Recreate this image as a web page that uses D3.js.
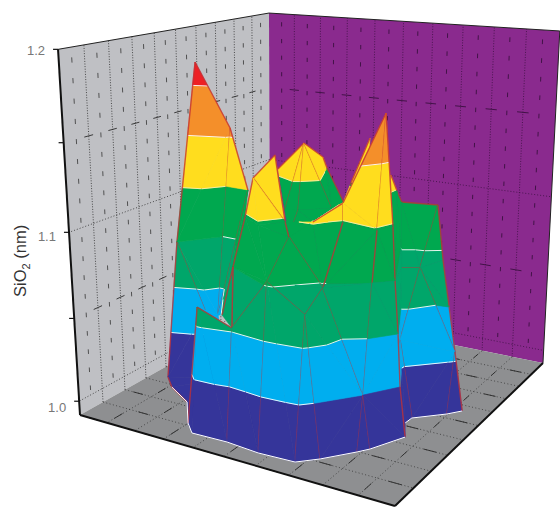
<!DOCTYPE html>
<html>
<head>
<meta charset="utf-8">
<script src="https://cdn.jsdelivr.net/npm/d3@7"></script>
<style>
html,body{margin:0;padding:0;background:#fff;}
svg{display:block;font-family:"Liberation Sans",Arial,sans-serif;}
</style>
</head>
<body>
<div id="chart"></div>
<script>
// mesh points: position on the wafer floor (u,v) and SiO2 thickness (z)
var vertNames = ["S1","S2","S3","T1","T2","T3","C","C2","Ca","Cb","Cc","C7a","C7b","C8","RT1","RT2","RM1","RM2","RE1","RE2","RE3","RE4","RL","RB0","RB1","RB2","A","L1","M","K2","J1","J0","L2","L3","L4","G3","F","F1","F2","F3","F4","D","D2","D3","E1","E2","E3","W1","W2","V1","V2","V3","V4","V5","V6","V8","V10","X2","X3","X4","R0","R1","R2","R3","R4","R5","R6","R7","R8"];
var vertU = [0.407,0.479,0.549,0.647,0.633,0.632,0.347,0.235,0.296,0.331,0.409,0.305,0.318,0.382,0.685,0.788,0.736,0.780,0.830,0.883,0.924,0.960,0.805,0.859,0.861,0.932,-0.059,0.121,0.137,0.256,0.256,0.214,0.116,0.170,0.270,0.275,0.335,0.322,0.403,0.477,0.524,0.651,0.680,0.606,0.658,0.772,0.791,0.396,0.405,0.359,0.468,0.560,0.681,0.545,0.680,0.816,0.785,0.829,0.853,0.875,0.353,0.398,0.509,0.613,0.720,0.766,0.828,0.849,0.896];
var vertV = [0.034,0.288,0.317,0.349,0.282,0.336,0.337,0.309,0.366,0.346,0.275,0.155,0.152,0.147,0.353,0.331,0.448,0.423,0.380,0.449,0.495,0.519,0.591,0.663,0.627,0.557,0.331,0.679,0.422,0.505,0.670,0.677,0.738,0.790,0.850,0.655,0.478,0.574,0.735,0.782,0.722,0.391,0.683,0.714,0.645,0.666,0.613,0.788,0.857,0.906,0.902,0.870,0.880,0.737,0.789,0.820,0.716,0.672,0.699,0.728,0.957,1.000,0.996,1.006,1.000,0.954,0.874,0.843,0.738];
var vertZ = [1.125,1.107,1.107,1.12,1.107,1.107,1.132,1.112,1.09,1.09,1.09,1.115,1.108,1.085,1.105,1.105,1.072,1.072,1.076,1.054,1.032,1.0,1.041,1.0,1.0,1.0,1.175,1.081,1.14,1.108,1.04,1.042,1.0,1.0,1.0,1.0,1.13,1.12,1.107,1.107,1.107,1.158,1.12,1.109,1.107,1.107,1.107,1.081,1.058,1.064,1.056,1.083,1.07,1.10,1.079,1.027,1.081,1.081,1.054,1.027,1.0,1.0,1.0,1.0,1.0,1.0,1.0,1.0,1.0];

// triangles back to front, last item says which sides carry a mesh line
var faces = [
["S1","S2","S3","ab"],["S2","S3","D2",""],["T1","T2","T3","ab"],
["C","C2","Ca","ab ca"],["C","Ca","Cb","ca"],["C","Cb","Cc","ca"],["C","Cc","C7a","ca"],["C7a","C7b","Cc","ab"],["C7b","C8","Cc","ab"],
["Ca","Cb","V5","bc"],["Cb","D3","V5",""],["Cb","Cc","D3",""],["Cc","C8","D2",""],["Cc","D2","D3",""],
["T2","T3","X2",""],["T2","RT1","RM1","ab"],["T2","RM1","X2",""],["RM1","X3","X2",""],["RL","X3","X4",""],["RL","X4","RB0",""],["X4","R8","RB0",""],
["RT1","RT2","RM2","ab bc"],["RT1","RM2","RM1","bc"],["RT2","RE1","RM2","ab"],["RE1","RE2","RM2","ab"],["RE2","RE3","RM2","ab bc"],
["RM1","RM2","RL","bc"],["RM1","RL","X3",""],["RM2","RE3","RL",""],["RL","RE3","RB1","ca"],["RE3","RB2","RB1","ab"],["RE3","RE4","RB2","ab"],["RL","RB1","RB0",""],
["A","L1","M","ab ca"],["L1","J1","M","bc"],["M","K2","J1","ab bc"],["K2","J1","W1",""],["J1","W2","W1",""],["K2","W1","F2",""],["L1","J0","J1","ab"],["L1","L2","J0","ab"],["J0","L2","G3",""],["J0","G3","J1",""],["L2","L3","G3","ab"],["L3","L4","G3","ab"],["L4","R0","G3",""],
["F2","F3","V3",""],["F2","V3","W1","ca"],["F3","F4","V5",""],["F3","V5","V3","bc"],["F4","D3","V5","ca"],["D3","V6","V5","bc"],["V5","V6","V3",""],["V3","V6","V4","bc ca"],
["D3","E1","V6",""],["E1","E2","V6","ca"],["E2","V10","V6",""],["E2","E3","X2","bc"],["E2","X2","V10","ca"],
["W1","V3","V2","bc ca"],["W2","W1","V2","ab bc"],
["V1","V2","R2","ab bc"],["V1","R2","R1",""],["V1","R1","R0","ca"],["V2","V3","R3","bc"],["V2","R3","R2",""],["V3","V4","R4","bc"],["V3","R4","R3",""],["V4","R4","R5","ca"],
["V4","V6","V8","bc"],["V4","V8","R5",""],["V8","R5","R6","ca"],["V8","R6","R7","ca"],["V6","V10","V8","bc"],["V10","X2","X3","bc"],["V10","X3","V8",""],["V8","X3","X4","bc"],["V8","X4","R8","bc"],["V8","R8","R7",""],
["F","F1","F4","ab bc ca"],["F1","F2","F3","ab"],["F1","F3","F4",""],
["D3","D2","E1","ab bc"],["D","D2","E2","ab ca"],["D2","E1","E2",""],["D","E2","E3","ca"]
];
var rimFront = ["L3","L4","R0","R1","R2","R3","R4","R5","R6","R7","R8"];
var rimRight = ["RB0","RB1","RB2","RE4"];

// contour bands
var bandLevels = [0.9,1.027,1.054,1.081,1.108,1.135,1.162,1.3];
var bandColors = ["#35359a","#00aeef","#00a66a","#00a84f","#ffdd1e","#f48f2a","#ed2024"];

var zTicks = [1.0,1.1,1.2];
var zMinor = [1.05,1.15];
var zFloor = 0.9915, zTop = 1.2;

// camera for the box, fitted to its corners
var cam = {a:203.2,b:-205.5,c:270,d:8.35,e:26.6,f:308,g:-0.1285,h:-0.1937,i:-0.065,j:-18.5,k:-295.8,su:5.5,sv:-3,xs:-4};
var zScale = d3.scaleLinear().domain([zFloor,zTop]).range([0,1]);
var uScale = d3.scaleLinear().domain([0,1]).range([0,1]);
var vScale = d3.scaleLinear().domain([0,1]).range([0,1]);

function project(u,v,z){
  var U=uScale(u),V=vScale(v),t=zScale(z);
  var w=cam.g*U+cam.h*V+cam.i*t+1;
  return [(cam.a*U+cam.b*V+cam.j*t+cam.c)/w+t*cam.xs*(U+V),
          (cam.d*U+cam.e*V+cam.k*t+cam.f)/w+t*(cam.su*U+cam.sv*V)];
}

var verts={};
vertNames.forEach(function(n,i){verts[n]=[vertU[i],vertV[i],vertZ[i]];});

var svg=d3.select("#chart").append("svg").attr("width",560).attr("height",507);
var line=d3.line();

function poly(pts,fill,stroke,sw){
  return svg.append("path").attr("d",line(pts)+"Z").attr("fill",fill).attr("stroke",stroke||"none").attr("stroke-width",sw||0);
}
function seg(a,b,color,sw,dash){
  var s=svg.append("path").attr("d",line([a,b])).attr("fill","none").attr("stroke",color).attr("stroke-width",sw);
  if(dash) s.attr("stroke-dasharray",dash);
  return s;
}

// walls and floor
poly([project(0,0,zFloor),project(0,1,zFloor),project(0,1,zTop),project(0,0,zTop)],"#bfc0c4");
poly([project(0,0,zFloor),project(1,0,zFloor),project(1,0,zTop),project(0,0,zTop)],"#8a2a8e");
poly([project(0,0,zFloor),project(1,0,zFloor),project(1,1,zFloor),project(0,1,zFloor)],"#8e8f91");

var div=d3.range(1,10).map(function(d){return d/10;});
var ink="#2a2a2a",ink2="#3a1040";
div.forEach(function(s){
  seg(project(0,s,zFloor),project(0,s,zTop),ink,0.8,"1 1.6");
  seg(project(s,0,zFloor),project(s,0,zTop),ink2,0.8,"1 1.6");
});
[1.0,1.1].forEach(function(z){
  seg(project(0,0,z),project(0,1,z),ink,0.8,"1 2");
  seg(project(0,0,z),project(1,0,z),ink2,0.8,"1 2");
});
var rows=d3.range(1.003,zTop,0.0111);
d3.range(0.05,1,0.1).forEach(function(s){
  rows.forEach(function(z){
    seg(project(0,s,z),project(0,s,z+0.0028),"#444",0.9);
    seg(project(s,0,z),project(s,0,z+0.0028),ink2,0.9);
  });
});
zMinor.forEach(function(z){
  div.forEach(function(s){
    seg(project(0,s-0.018,z),project(0,s+0.018,z),ink,0.9);
    seg(project(s-0.018,0,z),project(s+0.018,0,z),ink2,0.9);
  });
});
// floor marks
div.forEach(function(s){
  seg(project(s,0,zFloor),project(s,1,zFloor),ink,0.7,"1 2.4");
  seg(project(0,s,zFloor),project(1,s,zFloor),ink,0.7,"1 2.4");
});
d3.range(0.05,1,0.1).forEach(function(s,i){
  d3.range(0.1,1,0.2).forEach(function(r){
    var rr=i%2?r:r+0.1;
    seg(project(s-0.018,rr,zFloor),project(s+0.018,rr,zFloor),ink,0.9);
    seg(project(rr,s-0.018,zFloor),project(rr,s+0.018,zFloor),ink,0.9);
  });
});

// box edges
seg(project(0,1,zTop),project(0,0,zTop),"#222",1);
seg(project(0,0,zTop),project(1,0,zTop),"#222",1);
seg(project(1,0,zTop),project(1,0,zFloor),"#222",1);
seg(project(0,1,zTop),project(0,1,zFloor),"#111",2);
seg(project(0,1,zFloor),project(1,1,zFloor),"#111",2);
seg(project(1,1,zFloor),project(1,0,zFloor),"#111",2);

// keep the part of a polygon above (keep=1) or below (keep=-1) a level
function clip(pts,lvl,keep){
  var out=[];
  pts.forEach(function(p,i){
    var q=pts[(i+1)%pts.length],dp=(p[2]-lvl)*keep,dq=(q[2]-lvl)*keep;
    if(dp>=0) out.push(p);
    if((dp>0&&dq<0)||(dp<0&&dq>0)){
      var s=dp/(dp-dq);
      out.push([p[0]+s*(q[0]-p[0]),p[1]+s*(q[1]-p[1]),p[2]+s*(q[2]-p[2])]);
    }
  });
  return out;
}
function proj(p){return project(p[0],p[1],p[2]);}
var meshColor="#c22f35";

faces.forEach(function(f){
  var tri=[verts[f[0]],verts[f[1]],verts[f[2]]];
  bandColors.forEach(function(col,b){
    var pts=clip(clip(tri,bandLevels[b],1),bandLevels[b+1],-1);
    if(pts.length>2) poly(pts.map(proj),col,col,0.6);
  });
  // white contour lines
  bandLevels.slice(1,7).forEach(function(l){
    var cut=[];
    tri.forEach(function(p,i){
      var q=tri[(i+1)%3];
      if((p[2]-l)*(q[2]-l)<0){
        var s=(l-p[2])/(q[2]-p[2]);
        cut.push([p[0]+s*(q[0]-p[0]),p[1]+s*(q[1]-p[1]),l]);
      }
    });
    if(cut.length==2) seg(proj(cut[0]),proj(cut[1]),l==1.108?"#f4f0b0":"#fff",0.9);
  });
  // mesh lines
  f[3].split(" ").forEach(function(e){
    if(!e) return;
    var idx={a:0,b:1,c:2};
    seg(proj(tri[idx[e[0]]]),proj(tri[idx[e[1]]]),meshColor,1.4).attr("stroke-opacity",0.78);
  });
});

[rimFront,rimRight].forEach(function(r){
  svg.append("path").attr("d",line(r.map(function(n){return proj(verts[n]);}))).attr("fill","none").attr("stroke","#fff").attr("stroke-width",1);
});

// z axis
zTicks.concat(zMinor).forEach(function(z){
  var p=project(0,1,z);
  seg([p[0]-5,p[1]],p,"#111",1.2);
});
zTicks.forEach(function(z){
  var p=project(0,1,z);
  svg.append("text").attr("x",p[0]-13).attr("y",p[1]+11-(z-1)*25).attr("text-anchor","end").attr("font-size",13).attr("fill","#777").text(d3.format(".1f")(z));
});
var title=svg.append("text").attr("transform","translate(26,297) rotate(-90)").attr("font-size",16.5).attr("fill","#333");
title.append("tspan").text("SiO");
title.append("tspan").attr("font-size",11).attr("dy",4).text("2");
title.append("tspan").attr("dy",-4).text(" (nm)");
</script>
</body>
</html>
